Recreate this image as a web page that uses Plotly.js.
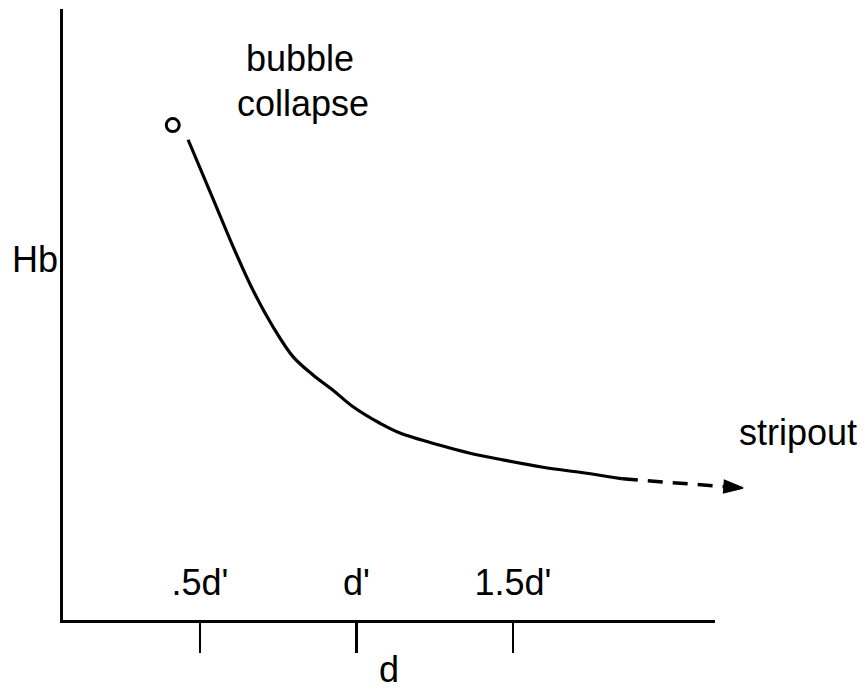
<!DOCTYPE html>
<html>
<head>
<meta charset="utf-8">
<script src="https://cdn.plot.ly/plotly-3.0.1.min.js"></script>
<style>
  html, body { margin: 0; padding: 0; background: #ffffff; }
  #chart { width: 867px; height: 690px; }
</style>
</head>
<body>
<div id="chart"></div>
<script>
// ---- data (x in units of d', y arbitrary Hb units) ----
const tickValues = [0.5, 1.0, 1.5];
const tickLabels = [".5d'", "d'", "1.5d'"];

const curveX = [0.462, 0.542, 0.605, 0.669, 0.733, 0.797, 0.861, 0.925, 0.989, 1.075, 1.139, 1.267, 1.363, 1.468, 1.596, 1.724, 1.851];
const curveY = [7.86, 6.89, 6.12, 5.40, 4.80, 4.31, 4.01, 3.76, 3.49, 3.22, 3.06, 2.86, 2.73, 2.62, 2.50, 2.41, 2.31];

const collapseX = [0.413];
const collapseY = [8.10];

const stripoutX = [1.851, 2.235];
const stripoutY = [2.31, 2.16];

const xTitle = "d";
const yTitle = "Hb";
const collapseLabel = ["bubble", "collapse"];
const stripoutLabel = "stripout";

// ---- layout geometry ----
const W = 867, H = 690;
const padL = 63, axisRight = 715, plotRight = 760, padT = 9, axisBottom = 620;
const plotW = plotRight - padL, plotH = axisBottom - padT;
const xRange = [0.0623, 2.1454];
const domFrac = (axisRight - padL) / plotW;
const pxPerUnit = (axisRight - padL) / (xRange[1] - xRange[0]);
const x2Range = [xRange[0], xRange[0] + plotW / pxPerUnit];

const px = p => (p - padL) / plotW;
const py = p => (axisBottom - p) / plotH;

const FONT = "Liberation Sans, Arial, Helvetica, sans-serif";
const FS = 36;

const traces = [
  {
    x: curveX, y: curveY, xaxis: 'x', yaxis: 'y',
    mode: 'lines', line: { color: '#000', width: 3.2, shape: 'spline', smoothing: 1 },
    hoverinfo: 'skip', showlegend: false
  },
  {
    x: collapseX, y: collapseY, xaxis: 'x', yaxis: 'y',
    mode: 'markers', marker: { symbol: 'circle-open', size: 13, color: '#000', line: { width: 3, color: '#000' } },
    cliponaxis: false, hoverinfo: 'skip', showlegend: false
  },
  {
    x: stripoutX, y: stripoutY, xaxis: 'x2', yaxis: 'y',
    mode: 'lines+markers',
    line: { color: '#000', width: 3.5, dash: '15px,10px' },
    marker: { symbol: 'arrow', angleref: 'previous', size: [0, 20], color: '#000', opacity: 1, line: { width: 1.5, color: '#000' } },
    cliponaxis: false, hoverinfo: 'skip', showlegend: false
  }
];

const layout = {
  width: W, height: H,
  margin: { l: padL, r: W - plotRight, t: padT, b: H - axisBottom },
  paper_bgcolor: '#fff', plot_bgcolor: 'rgba(0,0,0,0)',
  font: { family: FONT, size: FS, color: '#000' },
  showlegend: false,
  xaxis: {
    domain: [0, domFrac], range: xRange, anchor: 'y',
    showgrid: false, zeroline: false,
    showline: true, linecolor: '#000', linewidth: 3,
    ticks: 'outside', ticklen: 30, tickwidth: 2.5, tickcolor: '#000',
    tickmode: 'array', tickvals: tickValues, ticktext: tickLabels,
    ticklabelposition: 'inside', ticklabelstandoff: 22,
    tickfont: { family: FONT, size: FS, color: '#000' },
    title: { text: xTitle, font: { family: FONT, size: FS, color: '#000' }, standoff: 62 },
    fixedrange: true
  },
  xaxis2: {
    domain: [0, 1], range: x2Range, anchor: 'y', visible: false, fixedrange: true
  },
  yaxis: {
    domain: [0, 1], range: [0, 10], anchor: 'x',
    showgrid: false, zeroline: false, showticklabels: false, ticks: '',
    showline: true, linecolor: '#000', linewidth: 3, fixedrange: true
  },
  annotations: [
    { xref: 'paper', yref: 'paper', x: px(35), y: py(259), text: yTitle, showarrow: false,
      xanchor: 'center', yanchor: 'middle', font: { family: FONT, size: FS, color: '#000' } },
    { xref: 'paper', yref: 'paper', x: px(300), y: py(59), text: collapseLabel[0], showarrow: false,
      xanchor: 'center', yanchor: 'middle', font: { family: FONT, size: FS, color: '#000' } },
    { xref: 'paper', yref: 'paper', x: px(303), y: py(103), text: collapseLabel[1], showarrow: false,
      xanchor: 'center', yanchor: 'middle', font: { family: FONT, size: FS, color: '#000' } },
    { xref: 'paper', yref: 'paper', x: px(798), y: py(432), text: stripoutLabel, showarrow: false,
      xanchor: 'center', yanchor: 'middle', font: { family: FONT, size: FS, color: '#000' } }
  ]
};

Plotly.newPlot('chart', traces, layout, { staticPlot: true, displayModeBar: false });
</script>
</body>
</html>
